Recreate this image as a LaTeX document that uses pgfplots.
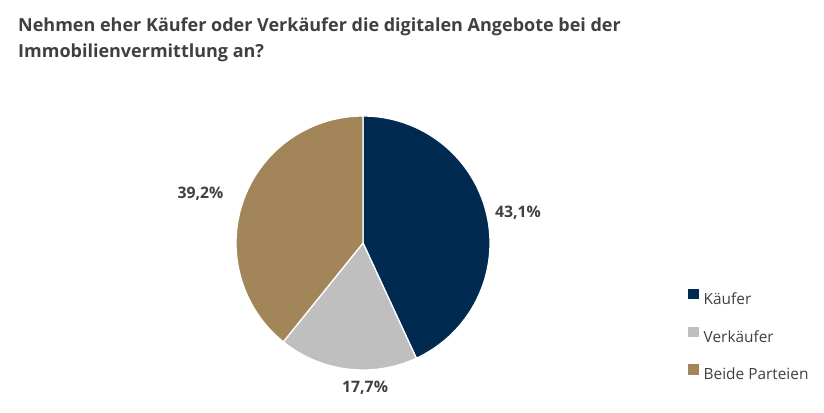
\documentclass[border=0pt]{standalone}
\usepackage{pgfplots}
\pgfplotsset{compat=1.18}
\usepackage{fontspec}
\setmainfont{Open Sans}
\definecolor{kaeufer}{HTML}{002A4F}
\definecolor{verk}{HTML}{BFBFBF}
\definecolor{beide}{HTML}{A3855A}
\definecolor{txt}{HTML}{404040}
\begin{document}
\begin{tikzpicture}
\useasboundingbox (0pt,0pt) rectangle (824pt,-412pt);
\begin{axis}[at={(0pt,0pt)}, anchor=north west, scale only axis,
  width=824pt, height=412pt, hide axis, clip=false,
  xmin=-2.8583, xmax=3.6299, ymin=-1.3307, ymax=1.9134,
  legend style={draw=none, fill=none, at={(axis cs:2.559,-0.36)}, anchor=north west,
    font=\fontsize{15.4}{18}\selectfont\color{txt}, row sep=18.5pt, inner sep=0pt,
    nodes={inner sep=2pt},
    /tikz/every odd column/.append style={column sep=3pt}},
  legend cell align=left,
  legend image code/.code={\fill[#1,draw=none] (0pt,0pt) rectangle (10.5pt,10.5pt);},
]
% shares in percent: Kaeufer 43.1, Verkaeufer 17.7, Beide Parteien 39.2
\addplot[fill=kaeufer, draw=white, line width=1.3pt, data cs=polar, domain=-65.16:90, samples=120] (x,1) -- (axis cs:0,0) -- cycle;
\addlegendentry{Käufer}
\addplot[fill=verk, draw=white, line width=1.3pt, data cs=polar, domain=-128.88:-65.16, samples=60] (x,1) -- (axis cs:0,0) -- cycle;
\addlegendentry{Verkäufer}
\addplot[fill=beide, draw=white, line width=1.3pt, data cs=polar, domain=-270:-128.88, samples=120] (x,1) -- (axis cs:0,0) -- cycle;
\addlegendentry{Beide Parteien}
\node[font=\bfseries\fontsize{15.8}{18}\selectfont, text=txt] at (axis cs:1.22,0.236) {43,1\%};
\node[font=\bfseries\fontsize{15.8}{18}\selectfont, text=txt] at (axis cs:0.016,-1.14) {17,7\%};
\node[font=\bfseries\fontsize{15.8}{18}\selectfont, text=txt] at (axis cs:-1.28,0.39) {39,2\%};
\end{axis}
\node[anchor=base west, inner sep=0pt, font=\bfseries\fontsize{18}{22}\selectfont, text=txt] at (18pt,-32pt) {Nehmen eher Käufer oder Verkäufer die digitalen Angebote bei der};
\node[anchor=base west, inner sep=0pt, font=\bfseries\fontsize{18}{22}\selectfont, text=txt] at (18pt,-57pt) {Immobilienvermittlung an?};
\end{tikzpicture}
\end{document}
